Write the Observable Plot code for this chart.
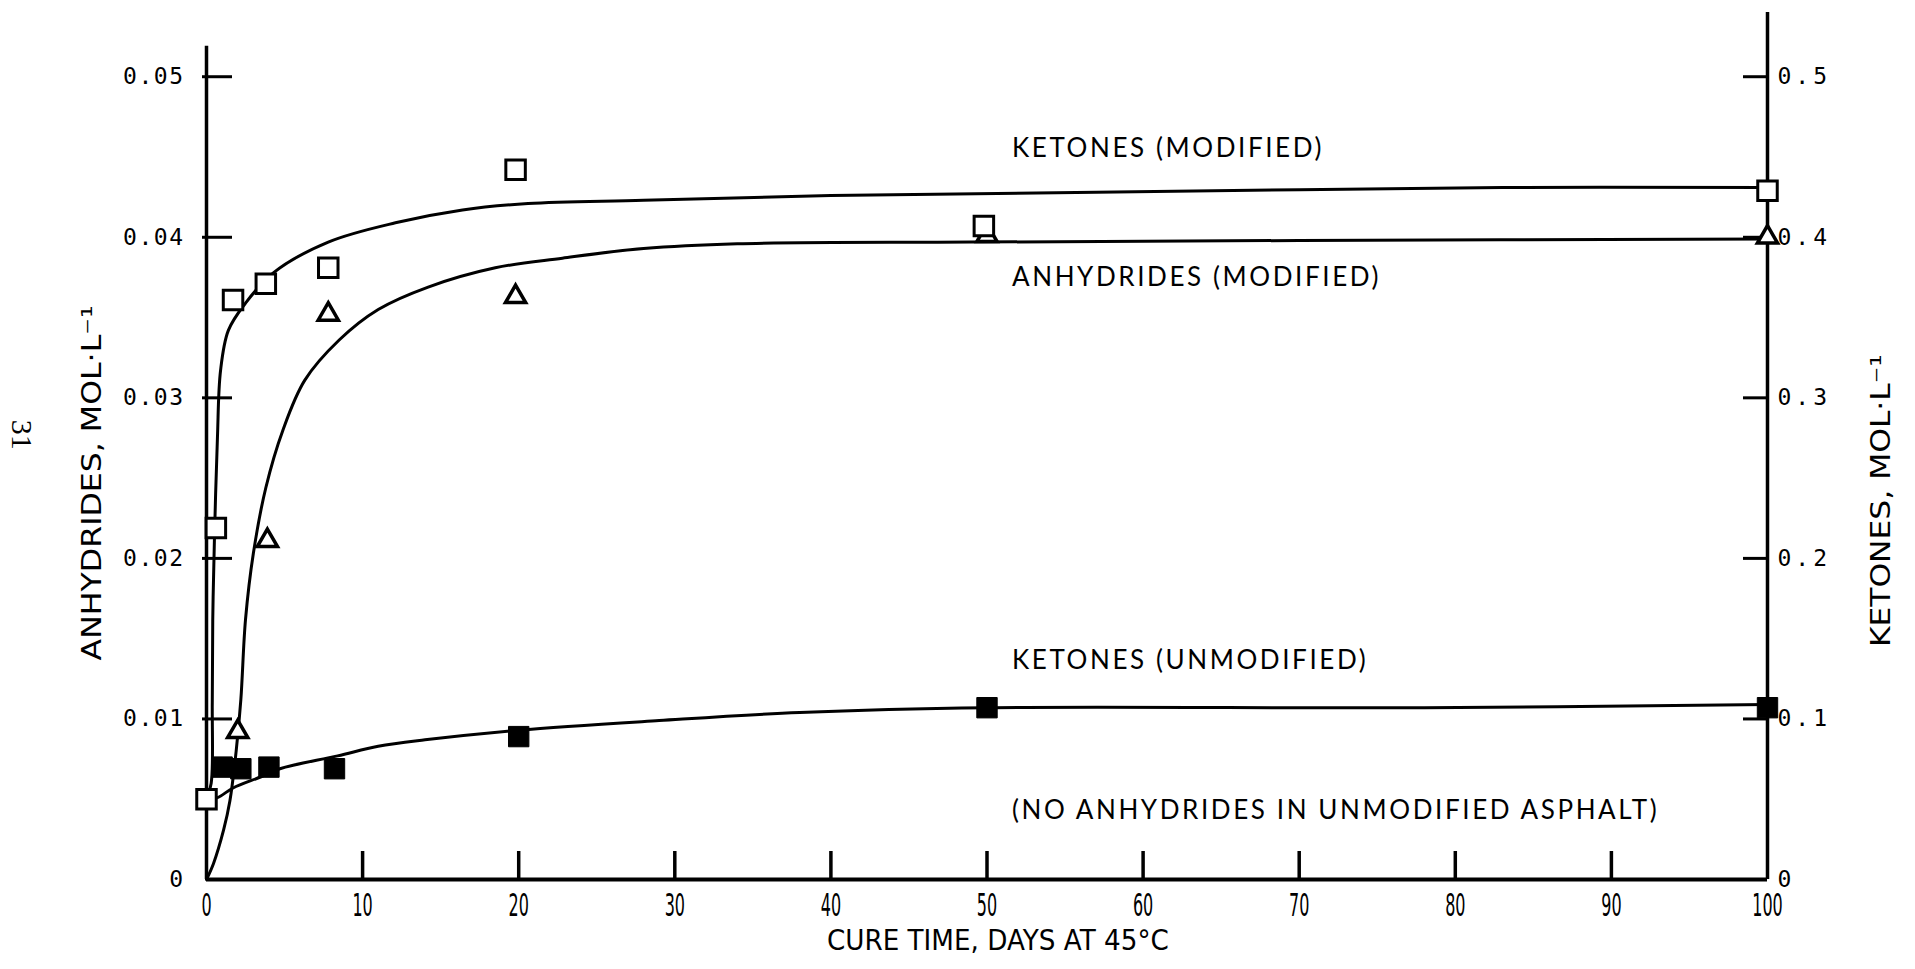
<!DOCTYPE html>
<html>
<head>
<meta charset="utf-8">
<script src="https://cdn.jsdelivr.net/npm/d3@7"></script>
<script src="https://cdn.jsdelivr.net/npm/@observablehq/plot@0.6"></script>
<style>
  html, body { margin: 0; padding: 0; background: #fff; }
  #chart svg { display: block; }
</style>
</head>
<body>
<div id="chart"></div>
<script>
// ---- Measured points (days of cure at 45 °C) ----
// Ketones, modified asphalt (right axis, mol/L)
const ketModDays   = [0, 0.6, 1.7, 3.8, 7.8, 19.8, 49.8, 100];
const ketModValues = [0.050, 0.219, 0.361, 0.371, 0.381, 0.442, 0.407, 0.429];
// Anhydrides, modified asphalt (left axis, mol/L)
const anhModDays   = [2.0, 3.9, 7.8, 19.8, 50, 100];
const anhModValues = [0.0092, 0.0211, 0.0352, 0.0363, 0.0401, 0.0400];
// Ketones, unmodified asphalt (right axis, mol/L)
const ketUnmodDays   = [1.0, 2.2, 4.0, 8.2, 20, 50, 100];
const ketUnmodValues = [0.070, 0.069, 0.070, 0.069, 0.089, 0.107, 0.107];

// ---- Fitted curves ----
const ketModCurveDays   = [0, 0.3, 0.37, 0.4, 0.51, 0.7, 0.9, 1.4, 2.5, 4.3, 7.8, 12.1, 16.4, 20.6, 28, 40, 57, 83, 100];
const ketModCurveValues = [0.050, 0.060, 0.110, 0.161, 0.213, 0.275, 0.317, 0.342, 0.359, 0.378, 0.397, 0.409, 0.417, 0.421, 0.423, 0.426, 0.428, 0.431, 0.431];
const anhModCurveDays   = [0, 0.45, 1.1, 1.5, 1.9, 2.2, 2.5, 3.0, 3.8, 4.9, 6.3, 8.5, 11.0, 14.2, 18.5, 22.8, 28, 34, 49, 70, 100];
const anhModCurveValues = [0, 0.0010, 0.0031, 0.0049, 0.0080, 0.0112, 0.0162, 0.0203, 0.0244, 0.0280, 0.0311, 0.0336, 0.0355, 0.0369, 0.0381, 0.0387, 0.0393, 0.0396, 0.0397, 0.0398, 0.0399];
const ketUnmodCurveDays   = [0, 0.7, 1.7, 3.5, 4.7, 8.4, 11, 14, 20, 29, 38, 50, 78, 100];
const ketUnmodCurveValues = [0.050, 0.051, 0.057, 0.064, 0.069, 0.077, 0.083, 0.087, 0.093, 0.099, 0.104, 0.107, 0.107, 0.109];

// ---- Axes ----
const xTicks = [0, 10, 20, 30, 40, 50, 60, 70, 80, 90, 100];
const leftTicks = [0, 0.01, 0.02, 0.03, 0.04, 0.05];
const rightTicks = [0, 0.1, 0.2, 0.3, 0.4, 0.5];

// ---- Annotations ----
const seriesLabels = ["KETONES (MODIFIED)", "ANHYDRIDES (MODIFIED)", "KETONES (UNMODIFIED)", "(NO ANHYDRIDES IN UNMODIFIED ASPHALT)"];
const xTitle = "CURE TIME, DAYS AT 45°C";
const leftTitle = "ANHYDRIDES, MOL·L⁻¹";
const rightTitle = "KETONES, MOL·L⁻¹";
const pageNumber = "31";

// ---- Layout ----
const W = 1915, H = 969;
const margin = {top: 12, right: 148, bottom: 90, left: 206};
const yMax = 0.054;
const pxPerDay = (W - margin.left - margin.right) / 100;
const pxPerUnit = (H - margin.top - margin.bottom) / yMax;
const KET = 10; // right axis = left axis × 10

const rows = (days, vals, k = 1) => days.map((d, i) => ({day: d, v: vals[i] / k}));
const ketMod = rows(ketModDays, ketModValues, KET);
const anhMod = rows(anhModDays, anhModValues);
const ketUnmod = rows(ketUnmodDays, ketUnmodValues, KET);
const ketModCurve = rows(ketModCurveDays, ketModCurveValues, KET);
const anhModCurve = rows(anhModCurveDays, anhModCurveValues);
const ketUnmodCurve = rows(ketUnmodCurveDays, ketUnmodCurveValues, KET);

const labelPos = [
  {day: 51.6, v: 0.0455},
  {day: 51.6, v: 0.0375},
  {day: 51.6, v: 0.0136},
  {day: 51.6, v: 0.0043}
];
const labels = seriesLabels.map((t, i) => ({text: t, ...labelPos[i]}));

const sansFont = "'DejaVu Sans', sans-serif";
const labelFont = "Lato, 'Open Sans', sans-serif";
const monoFont = "'DejaVu Sans Mono', 'Liberation Mono', monospace";

const lineStyle = {x: "day", y: "v", curve: "catmull-rom", stroke: "black", strokeWidth: 3};

const chart = Plot.plot({
  width: W,
  height: H,
  marginTop: margin.top,
  marginRight: margin.right,
  marginBottom: margin.bottom,
  marginLeft: margin.left,
  x: {domain: [0, 100]},
  y: {domain: [0, yMax]},
  style: {background: "white", color: "black"},
  marks: [
    // axis lines
    Plot.ruleY([0], {x1: 0, x2: 100, strokeWidth: 4}),
    Plot.ruleX([0], {y1: 0, y2: 0.0519, strokeWidth: 3.5}),
    Plot.ruleX([100], {y1: 0, y2: yMax, strokeWidth: 3.5}),
    // inward ticks
    Plot.ruleY(leftTicks.slice(1), {x1: -4 / pxPerDay, x2: 26 / pxPerDay, strokeWidth: 3}),
    Plot.ruleY(rightTicks.slice(1).map(v => v / KET), {x1: 100 - 24 / pxPerDay, x2: 100, strokeWidth: 3}),
    Plot.ruleX(xTicks.slice(1, -1), {y1: 0, y2: 28 / pxPerUnit, strokeWidth: 3.5}),
    // tick labels
    Plot.axisX({ticks: xTicks, label: null, tickSize: 0, tickPadding: 14, fontSize: 32, fontFamily: sansFont, tickFormat: d => String(d)}),
    Plot.axisY({anchor: "left", label: null, ticks: leftTicks, tickSize: 0, tickPadding: 22, fontSize: 23, fontFamily: monoFont,
      tickFormat: d => d === 0 ? "0" : d.toFixed(2)}),
    Plot.axisY({anchor: "right", label: null, ticks: rightTicks.map(v => v / KET), tickSize: 0, tickPadding: 10, fontSize: 23, fontFamily: monoFont,
      tickFormat: d => d === 0 ? "0" : (d * KET).toFixed(1)}),
    // axis titles
    Plot.text([xTitle], {x: 50.7, frameAnchor: "bottom", dy: 70, text: d => d, textAnchor: "middle", fontSize: 28, fontFamily: sansFont}),
    Plot.text([leftTitle], {y: 0.0247, frameAnchor: "left", dx: -114, rotate: -90, text: d => d, textAnchor: "middle", fontSize: 27, fontFamily: sansFont}),
    Plot.text([rightTitle], {y: 0.0236, frameAnchor: "right", dx: 114, rotate: -90, text: d => d, textAnchor: "middle", fontSize: 27, fontFamily: sansFont}),
    Plot.text([pageNumber], {y: 0.0277, frameAnchor: "left", dx: -185, rotate: 90, text: d => d, textAnchor: "middle", fontSize: 30, fontFamily: "'Liberation Serif', serif"}),
    // fitted curves
    Plot.line(ketModCurve, lineStyle),
    Plot.line(anhModCurve, lineStyle),
    Plot.line(ketUnmodCurve, lineStyle),
    // measured points
    Plot.dot(ketUnmod, {x: "day", y: "v", symbol: "square", r: 11.5, fill: "black", stroke: "black", strokeWidth: 1}),
    Plot.dot(anhMod, {x: "day", y: "v", symbol: "triangle", r: 7.5, fill: "white", stroke: "black", strokeWidth: 3.5}),
    Plot.dot(ketMod, {x: "day", y: "v", symbol: "square", r: 11, fill: "white", stroke: "black", strokeWidth: 3}),
    // series annotations
    Plot.text(labels, {x: "day", y: "v", text: "text", textAnchor: "start", fontSize: 26, fontFamily: labelFont})
  ]
});

document.getElementById("chart").appendChild(chart);

// ---- Typographic touches ----
const svg = d3.select(chart);

// tall, narrow lettering for the day numbers
svg.selectAll('g[aria-label="x-axis tick label"] text').each(function () {
  const t = d3.select(this);
  const tr = t.attr("transform");
  if (tr) {
    t.attr("transform", tr + " scale(0.5,1)");
  } else {
    const x = +t.attr("x") || 0, y = +t.attr("y") || 0;
    t.attr("x", null).attr("y", null).attr("transform", `translate(${x},${y}) scale(0.5,1)`);
  }
});

// typewriter-style spacing on the concentration values
svg.selectAll('g[aria-label="y-axis tick label"] text').each(function () {
  const t = d3.select(this);
  t.style("letter-spacing", t.text().length === 3 ? "4px" : "1.5px");
});

// condensed axis titles, fitted to their lengths; airy spacing on series names
const titleWidths = new Map([[xTitle, 342], [leftTitle, 355], [rightTitle, 293]]);
svg.selectAll("text").each(function () {
  const w = titleWidths.get(this.textContent);
  if (w) d3.select(this).attr("textLength", w).attr("lengthAdjust", "spacingAndGlyphs");
  if (seriesLabels.includes(this.textContent)) d3.select(this).style("letter-spacing", "2.6px");
});
</script>
</body>
</html>
